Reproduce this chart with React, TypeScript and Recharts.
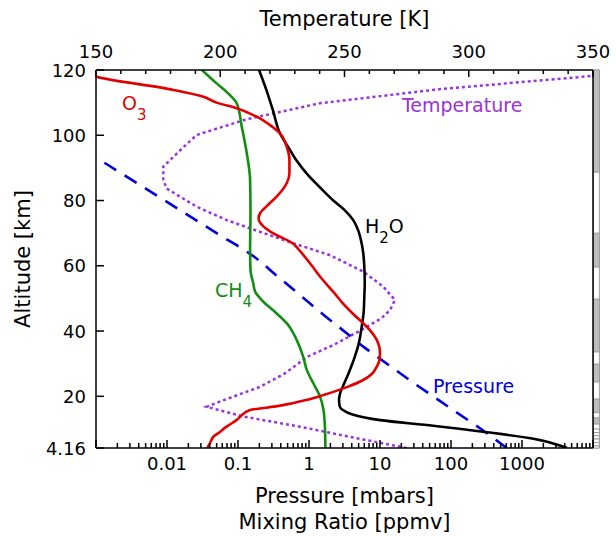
import React from 'react';
import { ComposedChart, Line, XAxis, YAxis, ReferenceArea, ReferenceDot } from 'recharts';

const FONT = '"DejaVu Sans", Verdana, sans-serif';
const W = 616;
const H = 536;

// profiles as [altitude km, value]
const O3_PPMV = [
  [4.16, 0.037], [6, 0.041], [7.6, 0.045], [9, 0.055], [10.7, 0.069], [12.7, 0.095],
  [14, 0.11], [15.8, 0.148], [16.5, 0.25], [17.3, 0.43], [18.9, 0.93], [20.4, 1.6],
  [22.9, 3.5], [25, 5.8], [27, 7.8], [29.1, 9.0], [31, 9.8], [33.2, 10.0], [35, 9.8],
  [37.3, 9.0], [40, 7.4], [42.4, 5.8], [45, 4.3], [48.5, 3.0], [52, 2.2], [56.7, 1.43],
  [60, 1.1], [62, 0.93], [64.5, 0.75], [67, 0.58], [70, 0.31], [72, 0.23], [74.5, 0.195],
  [76.1, 0.205], [78.5, 0.26], [81.2, 0.35], [85.3, 0.485], [88.3, 0.53], [92.4, 0.53],
  [96.5, 0.485], [100.6, 0.39], [103.1, 0.283], [105.7, 0.183], [108.3, 0.096], [110, 0.05],
  [111.8, 0.0325], [113.9, 0.0123], [118, 0.001], [120, 0.0006],
];

const CH4_PPMV = [
  [4.16, 1.7], [10, 1.68], [15.8, 1.6], [19.9, 1.43], [24, 1.15], [28.1, 0.93], [32.1, 0.83],
  [37.3, 0.67], [42.4, 0.485], [45.4, 0.35], [49.5, 0.216], [52, 0.175], [54.6, 0.164],
  [58.7, 0.15], [65, 0.148], [77, 0.15], [86.3, 0.148], [94.5, 0.133], [102.6, 0.113],
  [109.8, 0.096], [112.3, 0.077], [115.9, 0.05], [120, 0.031],
];

const H2O_PPMV = [
  [4.16, 4300], [7, 1450], [9, 320], [11, 56], [12.7, 10], [14.5, 4.0], [15.8, 3.0],
  [17, 2.7], [19, 2.65], [21, 2.75], [23, 3.0], [27, 3.6], [32, 4.4], [36, 5.0], [41, 5.5],
  [46, 5.9], [50, 6.0], [55, 6.1], [60, 6.0], [64, 5.8], [67, 5.5], [71, 4.9], [74, 4.2],
  [77, 3.2], [80, 2.2], [84, 1.43], [88, 0.95], [92, 0.68], [95.5, 0.54], [100.6, 0.39],
  [107.7, 0.31], [114, 0.25], [120, 0.198],
];

const PRESSURE_MBAR = [
  [4.16, 610], [10, 265], [15, 121], [20, 56], [25, 26], [30, 12.5], [35, 6.0], [39.1, 3.5],
  [45, 1.6], [51, 0.75], [57, 0.35], [63.3, 0.156], [70, 0.05], [80, 0.0093], [88, 0.0024],
  [93, 0.00102], [95, 0.0007],
];

const TEMPERATURE_K = [
  [4.16, 275], [7.6, 252], [10.7, 232], [13.8, 209.3], [16.8, 194.5], [19, 202], [22.9, 216],
  [27, 226], [32.1, 235], [35.7, 245.5], [40, 256], [44, 265], [46.4, 268.3], [49.5, 270.3],
  [53.6, 265.6], [58.2, 257.6], [63.3, 244], [66.9, 229.4], [70.4, 216], [74, 202.6],
  [78.1, 190.5], [83.7, 178.4], [86.3, 177.1], [90.4, 177.1], [96.3, 185.1], [100.1, 190.5],
  [104.9, 210.6], [109.8, 240], [114.1, 288], [118.2, 350], [120, 380],
];

const ALT_TICKS = [4.16, 20, 40, 60, 80, 100, 120];
const TEMP_LABELS = [150, 200, 250, 300, 350];
const DECADES = [0.001, 0.01, 0.1, 1, 10, 100, 1000, 10000];
const LOG_LABELS = ['0.01', '0.1', '1', '10', '100', '1000'];

// layers in the strip at the right edge [bottom km, top km]
const GRAY_LAYERS = [[88.7, 120], [59.6, 70], [33.6, 49.8], [24.4, 29.9], [15, 19.2], [11.5, 13.4]];
const FINE_LEVELS = [10, 8.9, 7.9, 6.9, 5.8, 4.8, 4.16];
// strip sits just past the right end of the log axis
const STRIP_X = [10170, 12300];

const rows = (pairs: number[][]) => pairs.map(([alt, v]) => ({ alt, v }));

const tempTicks: number[] = [];
for (let t = 150; t <= 350; t += 10) tempTicks.push(t);

const logTicks = DECADES.flatMap((d, i) =>
  i === DECADES.length - 1 ? [d] : [1, 2, 3, 4, 5, 6, 7, 8, 9].map((k) => k * d)
);

const near = (a: number, b: number) => Math.abs(a / b - 1) < 1e-9;

const LeftTick = ({ x, y, payload }: any) => (
  <g>
    <line x1={x} x2={x + 8} y1={y} y2={y} stroke="#000" strokeWidth={1.5} />
    <text x={x - 10} y={y} dy={6.5} textAnchor="end" fontFamily={FONT} fontSize={18} fill="#000">
      {String(payload.value)}
    </text>
  </g>
);

const RightTick = ({ x, y }: any) => (
  <line x1={x} x2={x - 8} y1={y} y2={y} stroke="#000" strokeWidth={1.5} />
);

const TopTick = ({ x, y, payload }: any) => {
  const major = TEMP_LABELS.includes(payload.value);
  return (
    <g>
      <line x1={x} x2={x} y1={y} y2={y + (major ? 7 : 4)} stroke="#000" strokeWidth={1.5} />
      {major && (
        <text x={x} y={y - 12} textAnchor="middle" fontFamily={FONT} fontSize={18} fill="#000">
          {payload.value}
        </text>
      )}
    </g>
  );
};

const BottomTick = ({ x, y, payload }: any) => {
  const v = payload.value;
  const major = DECADES.some((d) => near(v, d));
  const label = LOG_LABELS.find((l) => near(v, Number(l)));
  return (
    <g>
      <line x1={x} x2={x} y1={y} y2={y - (major ? 8 : 5)} stroke="#000" strokeWidth={1.5} />
      {label && (
        <text x={x} y={y + 22} textAnchor="middle" fontFamily={FONT} fontSize={18} fill="#000">
          {label}
        </text>
      )}
    </g>
  );
};

const SeriesLabel = ({ viewBox, main, sub, tail, color }: any) => (
  <text x={viewBox.x} y={viewBox.y} fill={color} fontFamily={FONT} fontSize={19}>
    {main}
    {sub && <tspan dy={10} fontSize={15}>{sub}</tspan>}
    {tail && <tspan dy={-10} fontSize={19}>{tail}</tspan>}
  </text>
);

const lineBase = { dot: false, isAnimationActive: false, yAxisId: 'alt', dataKey: 'v' } as const;

export default function App() {
  const fine = FINE_LEVELS.slice(0, -1).map((top, i) => [FINE_LEVELS[i + 1], top]);
  return (
    <div style={{ position: 'absolute', left: 0, top: 0, width: W, height: H }}>
      <ComposedChart layout="vertical" width={W} height={H} margin={{ top: 0, right: 0, bottom: 0, left: 0 }}>
        <XAxis
          xAxisId="log" type="number" scale="log" domain={[0.001, 10000]} allowDataOverflow
          ticks={logTicks} interval={0} height={88} tickSize={0} tickMargin={0}
          tick={<BottomTick />} axisLine={{ stroke: '#000', strokeWidth: 1.5 }}
        />
        <XAxis
          xAxisId="temp" orientation="top" type="number" domain={[150, 350]} allowDataOverflow
          ticks={tempTicks} interval={0} height={70} tickSize={0} tickMargin={0}
          tick={<TopTick />} axisLine={{ stroke: '#000', strokeWidth: 1.5 }}
        />
        <YAxis
          yAxisId="alt" dataKey="alt" type="number" domain={[4.16, 120]} allowDataOverflow reversed
          ticks={ALT_TICKS} interval={0} width={96} tickSize={0} tickMargin={0}
          tick={<LeftTick />} axisLine={{ stroke: '#000', strokeWidth: 1.5 }}
        />
        <YAxis
          yAxisId="right" orientation="right" type="number" domain={[4.16, 120]} allowDataOverflow reversed
          ticks={ALT_TICKS} interval={0} width={23} tickSize={0} tickMargin={0}
          tick={<RightTick />} axisLine={{ stroke: '#000', strokeWidth: 1.5 }}
        />

        <ReferenceArea xAxisId="log" yAxisId="alt" x1={STRIP_X[0]} x2={STRIP_X[1]} y1={4.16} y2={120}
          fill="#fff" fillOpacity={1} stroke="#9a9a9a" ifOverflow="visible" />
        {GRAY_LAYERS.map(([lo, hi]) => (
          <ReferenceArea key={`g${lo}`} xAxisId="log" yAxisId="alt" x1={STRIP_X[0]} x2={STRIP_X[1]} y1={lo} y2={hi}
            fill="#bdbdbd" fillOpacity={1} stroke="#9a9a9a" ifOverflow="visible" />
        ))}
        {fine.map(([lo, hi]) => (
          <ReferenceArea key={`f${lo}`} xAxisId="log" yAxisId="alt" x1={STRIP_X[0]} x2={STRIP_X[1]} y1={lo} y2={hi}
            fill="#fff" fillOpacity={1} stroke="#9a9a9a" ifOverflow="visible" />
        ))}

        <Line {...lineBase} xAxisId="temp" data={rows(TEMPERATURE_K)} type="linear"
          stroke="#9b33dd" strokeWidth={2.5} strokeDasharray="3 3" />
        <Line {...lineBase} xAxisId="log" data={rows(PRESSURE_MBAR)} type="monotoneY"
          stroke="#0000dd" strokeWidth={2.6} strokeDasharray="14 10" />
        <Line {...lineBase} xAxisId="log" data={rows(CH4_PPMV)} type="monotoneY"
          stroke="#138d13" strokeWidth={2.6} />
        <Line {...lineBase} xAxisId="log" data={rows(H2O_PPMV)} type="monotoneY"
          stroke="#000" strokeWidth={2.6} />
        <Line {...lineBase} xAxisId="log" data={rows(O3_PPMV)} type="monotoneY"
          stroke="#e00000" strokeWidth={2.6} />

        <ReferenceDot xAxisId="log" yAxisId="alt" x={0.00232} y={107.7} r={0} fill="none" stroke="none"
          label={<SeriesLabel main="O" sub="3" color="#e00000" />} />
        <ReferenceDot xAxisId="log" yAxisId="alt" x={6.15} y={70} r={0} fill="none" stroke="none"
          label={<SeriesLabel main="H" sub="2" tail="O" color="#000" />} />
        <ReferenceDot xAxisId="log" yAxisId="alt" x={0.0475} y={50.4} r={0} fill="none" stroke="none"
          label={<SeriesLabel main="CH" sub="4" color="#138d13" />} />
        <ReferenceDot xAxisId="log" yAxisId="alt" x={55.7} y={21} r={0} fill="none" stroke="none"
          label={<SeriesLabel main="Pressure" color="#0000dd" />} />
        <ReferenceDot xAxisId="log" yAxisId="alt" x={20.4} y={107.1} r={0} fill="none" stroke="none"
          label={<SeriesLabel main="Temperature" color="#9b33dd" />} />
      </ComposedChart>

      <svg width={W} height={H} style={{ position: 'absolute', left: 0, top: 0, pointerEvents: 'none' }}>
        <g fontFamily={FONT} fontSize={21} fill="#000" textAnchor="middle">
          <text x={344.5} y={26}>Temperature [K]</text>
          <text x={344.5} y={502.5}>Pressure [mbars]</text>
          <text x={344.5} y={529}>Mixing Ratio [ppmv]</text>
          <text transform="translate(30, 259) rotate(-90)">Altitude [km]</text>
        </g>
      </svg>
    </div>
  );
}
